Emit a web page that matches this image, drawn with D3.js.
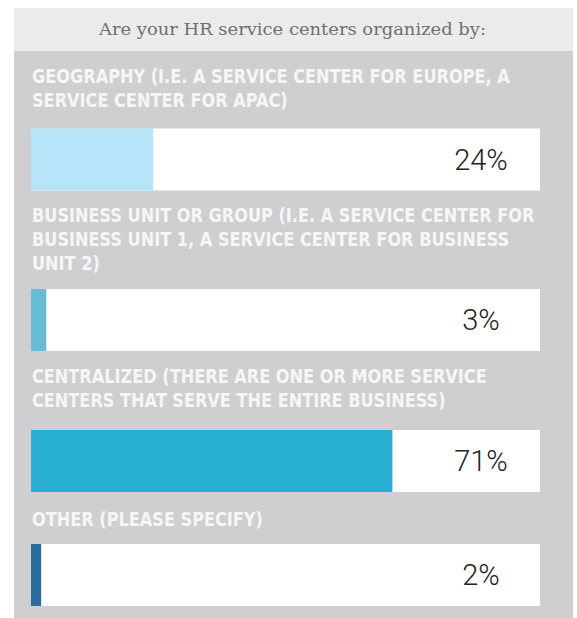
<!DOCTYPE html>
<html>
<head>
<meta charset="utf-8">
<script src="https://cdn.jsdelivr.net/npm/d3@7"></script>
<style>
  html, body { margin: 0; padding: 0; background: #ffffff; }
  svg { display: block; }
</style>
</head>
<body>
<svg id="chart" width="577" height="618"></svg>
<script>
// ---- data ----
const title = "Are your HR service centers organized by:";
const categories = [
  ["GEOGRAPHY (I.E. A SERVICE CENTER FOR EUROPE, A", "SERVICE CENTER FOR APAC)"],
  ["BUSINESS UNIT OR GROUP (I.E. A SERVICE CENTER FOR", "BUSINESS UNIT 1, A SERVICE CENTER FOR BUSINESS", "UNIT 2)"],
  ["CENTRALIZED (THERE ARE ONE OR MORE SERVICE", "CENTERS THAT SERVE THE ENTIRE BUSINESS)"],
  ["OTHER (PLEASE SPECIFY)"]
];
const values = [24, 3, 71, 2];
const barColors = ["#b7e4f8", "#68bcd6", "#29aed4", "#2a6c9c"];

// ---- layout ----
const svg = d3.select("#chart");
const panel = { x: 14, y: 8, w: 559, h: 610 };
const titleH = 43;
const boxX = 31, boxW = 509, barH = 62;
const lineH = 24;
const labelGaps = [31.5, 31.5, 31.5, 34];
const barGaps = [22, 19, 23.5, 18];

svg.append("rect").attr("x", panel.x).attr("y", panel.y)
  .attr("width", panel.w).attr("height", panel.h).attr("fill", "#cfcfd1");
svg.append("rect").attr("x", panel.x).attr("y", panel.y)
  .attr("width", panel.w).attr("height", titleH).attr("fill", "#ebebeb");
svg.append("text")
  .attr("x", panel.x + panel.w / 2 - 1).attr("y", panel.y + 27)
  .attr("text-anchor", "middle")
  .attr("font-family", "'DejaVu Serif', 'Liberation Serif', serif")
  .attr("font-size", 17)
  .attr("fill", "#6f6f6f")
  .attr("textLength", 387)
  .attr("lengthAdjust", "spacingAndGlyphs")
  .text(title);

const x = d3.scaleLinear().domain([0, 100]).range([0, boxW]);

// compute vertical positions
let cursor = panel.y + titleH;
const groups = categories.map((lines, i) => {
  const firstBase = cursor + labelGaps[i];
  const baselines = lines.map((_, j) => firstBase + j * lineH);
  const barTop = baselines[baselines.length - 1] + barGaps[i];
  cursor = barTop + barH;
  return { lines, baselines, barTop, value: values[i], color: barColors[i] };
});

// measure condensation factor for label font
const labelFont = "'DejaVu Sans Condensed', 'Roboto Condensed', sans-serif";
const probe = svg.append("text")
  .attr("font-family", labelFont).attr("font-weight", "bold").attr("font-size", 19)
  .text(categories[0][0]);
const squeeze = 478 / probe.node().getComputedTextLength();
probe.remove();

const g = svg.selectAll("g.item").data(groups).join("g").attr("class", "item");

g.each(function(d) {
  const sel = d3.select(this);
  d.lines.forEach((t, j) => {
    sel.append("text")
      .attr("transform", `translate(${boxX + 1},${d.baselines[j]}) scale(${squeeze},1)`)
      .attr("font-family", labelFont)
      .attr("font-weight", "bold")
      .attr("font-size", 19)
      .attr("fill", "#f6f6f6")
      .text(t);
  });
  sel.append("rect")
    .attr("x", boxX).attr("y", d.barTop)
    .attr("width", boxW).attr("height", barH)
    .attr("fill", "#ffffff");
  sel.append("rect")
    .attr("x", boxX).attr("y", d.barTop)
    .attr("width", Math.max(6, x(d.value))).attr("height", barH)
    .attr("fill", d.color);
  sel.append("text")
    .attr("x", 481).attr("y", d.barTop + barH / 2 + 10)
    .attr("text-anchor", "middle")
    .attr("font-family", "Roboto, 'Open Sans', sans-serif")
    .attr("font-weight", 300)
    .attr("font-size", 29)
    .attr("fill", "#222222")
    .text(d.value + "%");
});
</script>
</body>
</html>
